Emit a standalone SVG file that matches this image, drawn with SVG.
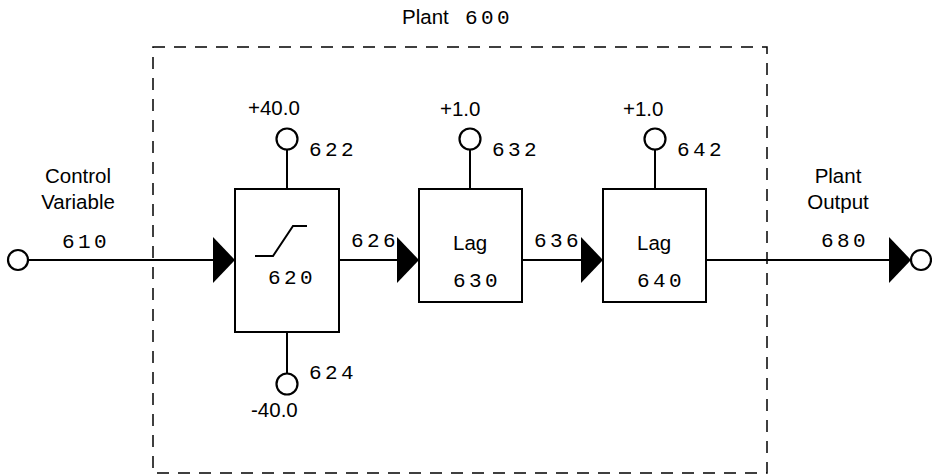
<svg xmlns="http://www.w3.org/2000/svg" width="932" height="476" viewBox="0 0 932 476">
<style>
.s{font-family:"Liberation Sans",Arial,sans-serif;font-size:20.5px;fill:#000}
.m{font-family:"Liberation Mono","Courier New",monospace;font-size:21px;letter-spacing:3.4px;fill:#000}
.ln{stroke:#000;stroke-width:2;fill:none}
.blk{stroke:#000;stroke-width:2;fill:#fff}
.term{stroke:#000;stroke-width:2.2;fill:#fff}
.dash{stroke:#000;stroke-width:1.5;fill:none;stroke-dasharray:12 9}
</style>
<defs>
<marker id="ah" viewBox="0 0 22 46" refX="22" refY="23" markerWidth="22" markerHeight="46" markerUnits="userSpaceOnUse" orient="auto">
<path d="M0,0 L22,23 L0,46 Z" fill="#000"/>
</marker>
</defs>
<rect fill="#fff" width="932" height="476"/>
<g id="plant600">
<rect class="dash" x="153" y="47" width="614" height="426"/>
<text class="s" x="402" y="24">Plant</text>
<text class="m" x="465" y="24">600</text>
</g>
<g id="connectors">
<line class="ln" x1="29" y1="260" x2="235" y2="260" marker-end="url(#ah)"/>
<line class="ln" x1="339" y1="260" x2="419" y2="260" marker-end="url(#ah)"/>
<line class="ln" x1="522" y1="260" x2="603" y2="260" marker-end="url(#ah)"/>
<line class="ln" x1="706" y1="260" x2="911" y2="260" marker-end="url(#ah)"/>
<line class="ln" x1="287" y1="150" x2="287" y2="189"/>
<line class="ln" x1="287" y1="332" x2="287" y2="373"/>
<line class="ln" x1="470" y1="150" x2="470" y2="189"/>
<line class="ln" x1="655" y1="150" x2="655" y2="189"/>
</g>
<g id="n610">
<circle class="term" cx="18" cy="260" r="10"/>
<text class="s" x="78" y="183" text-anchor="middle">Control</text>
<text class="s" x="78" y="209" text-anchor="middle">Variable</text>
<text class="m" x="62" y="248">610</text>
</g>
<g id="n620">
<rect class="blk" x="235" y="189" width="104" height="143"/>
<path class="ln" d="M255,256 H273 L293,226 H307"/>
<text class="m" x="268" y="284">620</text>
</g>
<g id="n622">
<circle class="term" cx="287" cy="139" r="10.5"/>
<text class="s" x="248" y="115">+40.0</text>
<text class="m" x="309" y="156">622</text>
</g>
<g id="n624">
<circle class="term" cx="287" cy="384" r="10.5"/>
<text class="m" x="309" y="379">624</text>
<text class="s" x="251" y="417">-40.0</text>
</g>
<g id="n626">
<text class="m" x="351" y="247">626</text>
</g>
<g id="n630">
<rect class="blk" x="419" y="189" width="103" height="113"/>
<text class="s" x="453" y="250">Lag</text>
<text class="m" x="453" y="287">630</text>
</g>
<g id="n632">
<circle class="term" cx="470" cy="139" r="10.5"/>
<text class="s" x="440" y="116">+1.0</text>
<text class="m" x="492" y="156">632</text>
</g>
<g id="n636">
<text class="m" x="534" y="247">636</text>
</g>
<g id="n640">
<rect class="blk" x="603" y="189" width="103" height="113"/>
<text class="s" x="637" y="250">Lag</text>
<text class="m" x="637" y="287">640</text>
</g>
<g id="n642">
<circle class="term" cx="655" cy="139" r="10.5"/>
<text class="s" x="623" y="116">+1.0</text>
<text class="m" x="677" y="156">642</text>
</g>
<g id="n680">
<circle class="term" cx="921" cy="260" r="10"/>
<text class="s" x="838" y="183" text-anchor="middle">Plant</text>
<text class="s" x="838" y="209" text-anchor="middle">Output</text>
<text class="m" x="821" y="247">680</text>
</g>
</svg>
